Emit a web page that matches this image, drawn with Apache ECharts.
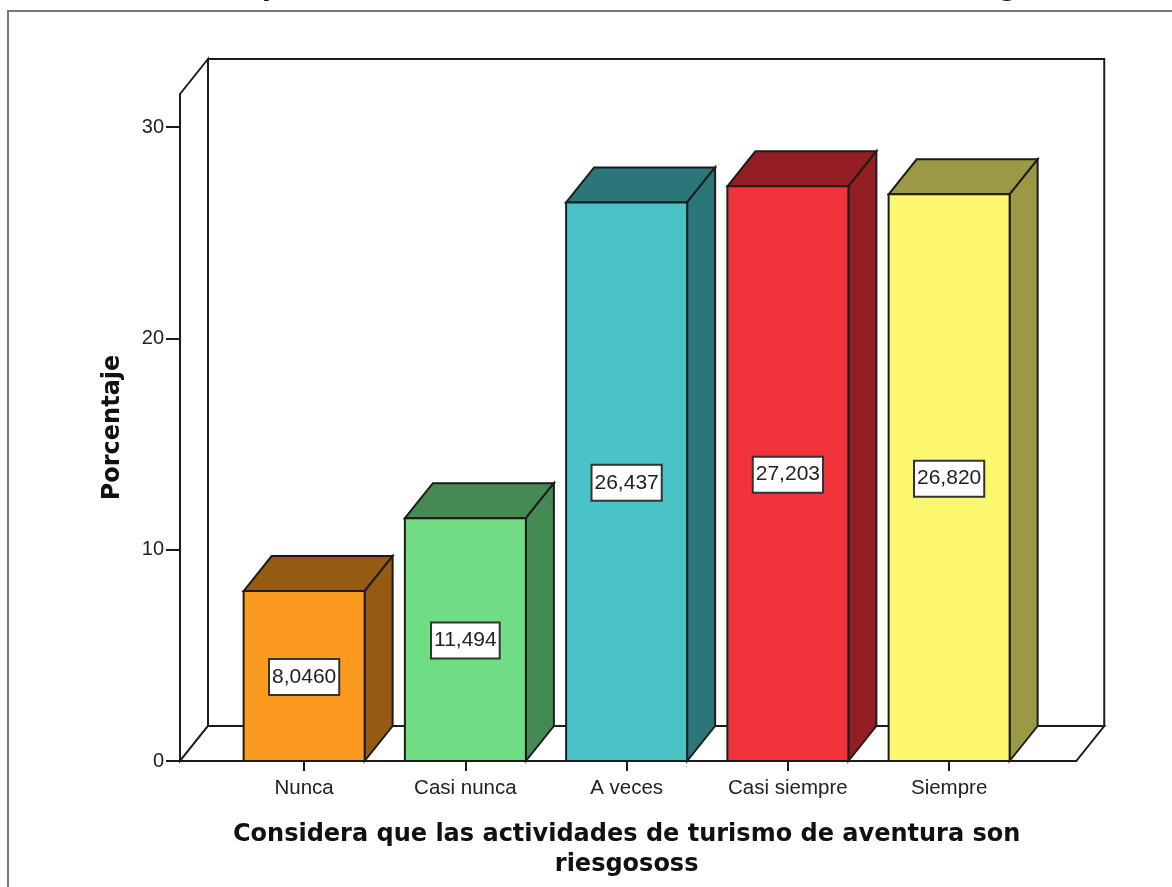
<!DOCTYPE html>
<html><head><meta charset="utf-8">
<style>html,body{margin:0;padding:0;background:#fff;overflow:hidden}#c{width:1172px;height:887px}</style>
<script src="https://cdn.jsdelivr.net/npm/echarts@6/dist/echarts.min.js"></script>
</head><body><div id="c"></div>
<script>
const categories = ['Nunca','Casi nunca','A veces','Casi siempre','Siempre'];
const values = [8.046,11.494,26.437,27.203,26.82];
const valueLabels = ['8,0460','11,494','26,437','27,203','26,820'];
const frontColors = ['#FB9A1E','#70DC84','#49C3C8','#F2333B','#FBF86F'];
const depthColors = ['#955B12','#458A55','#2C7679','#931F24','#9C9944'];
const yTicks = [0,10,20,30];
const titleText = 'Considera que las actividades de turismo de aventura son riesgososs';
const xTitle = 'Considera que las actividades de turismo de aventura son\nriesgososs';
const yTitle = 'Porcentaje';

const DX = 28, DY = -35, INK = '#1c1c1c', LEFT_EXT = 43.5, BAND_W = 121;
const boldFont = '"DejaVu Sans"';
const chart = echarts.init(document.getElementById('c'), null, {renderer:'canvas'});

function poly(points, fill){
  return {type:'polygon', shape:{points}, style:{fill, stroke:INK, lineWidth:2, lineJoin:'miter'}};
}
function renderFrame(params, api){
  const cs = params.coordSys;
  const x0 = cs.x - LEFT_EXT, x1 = cs.x + cs.width + LEFT_EXT + 3, b = cs.y + cs.height, t = cs.y;
  return {type:'group', children:[
    poly([[x0+DX,t+DY],[x1+DX,t+DY],[x1+DX,b+DY],[x0+DX,b+DY]],'#fff'),
    poly([[x0,t],[x0+DX,t+DY],[x0+DX,b+DY],[x0,b]],'#fff'),
    poly([[x0,b],[x1,b],[x1+DX,b+DY],[x0+DX,b+DY]],'#fff')
  ]};
}
function renderBar(params, api){
  const i = api.value(0), v = api.value(1);
  const c = api.coord([i,v]), z = api.coord([i,0]), m = api.coord([i,v/2]);
  const l = c[0]-BAND_W/2, r = c[0]+BAND_W/2, t = c[1], b = z[1];
  return {type:'group', children:[
    poly([[l,t],[l+DX,t+DY],[r+DX,t+DY],[r,t]], depthColors[i]),
    poly([[r,t],[r+DX,t+DY],[r+DX,b+DY],[r,b]], depthColors[i]),
    poly([[l,t],[r,t],[r,b],[l,b]], frontColors[i]),
    {type:'text', x:c[0], y:m[1]+1, style:{
      text:valueLabels[i], align:'center', verticalAlign:'middle',
      font:'21px "Liberation Sans"', fill:'#222',
      backgroundColor:'#fff', borderColor:'#333', borderWidth:2, padding:[7,2,6,2]
    }}
  ]};
}
chart.setOption({
  animation:false,
  backgroundColor:'#fff',
  title:{text:titleText, left:599, textAlign:'center', top:-24, padding:0, textStyle:{fontFamily:boldFont,fontWeight:'bold',fontSize:25.5,color:'#111'}},
  graphic:[{type:'polyline', shape:{points:[[8,887],[8,11],[1172,11]]}, style:{fill:'none',stroke:'#777',lineWidth:2}, z:1}],
  grid:{left:223.5, width:806.25, top:94, height:667, containLabel:false, outerBoundsMode:'none'},
  xAxis:{type:'category', data:categories, boundaryGap:true,
    axisLine:{show:false},
    axisTick:{show:true, alignWithLabel:true, length:10, lineStyle:{color:INK,width:2}},
    axisLabel:{fontFamily:'Liberation Sans', fontSize:20.5, color:'#222', margin:17, interval:0},
    name:xTitle, nameLocation:'middle', nameGap:59,
    nameTextStyle:{fontFamily:boldFont,fontWeight:'bold',fontSize:24,color:'#111',lineHeight:30}
  },
  yAxis:{type:'value', min:0, max:31.57, interval:10, offset:LEFT_EXT,
    splitLine:{show:false},
    axisLine:{show:false},
    axisTick:{show:true,length:14,customValues:yTicks,lineStyle:{color:INK,width:2}},
    axisLabel:{fontFamily:'Liberation Sans', fontSize:20, color:'#222', margin:16, customValues:yTicks},
    name:yTitle, nameLocation:'middle', nameGap:55,
    nameTextStyle:{fontFamily:boldFont,fontWeight:'bold',fontSize:24,color:'#111'}
  },
  series:[
    {type:'custom', coordinateSystem:'cartesian2d', z:1, silent:true, renderItem:renderFrame, data:[[0,0]], clip:false},
    {type:'custom', coordinateSystem:'cartesian2d', z:2, silent:true, renderItem:renderBar, clip:false,
      encode:{x:0,y:1}, data:values.map((v,i)=>[i,v])}
  ]
});
</script></body></html>
